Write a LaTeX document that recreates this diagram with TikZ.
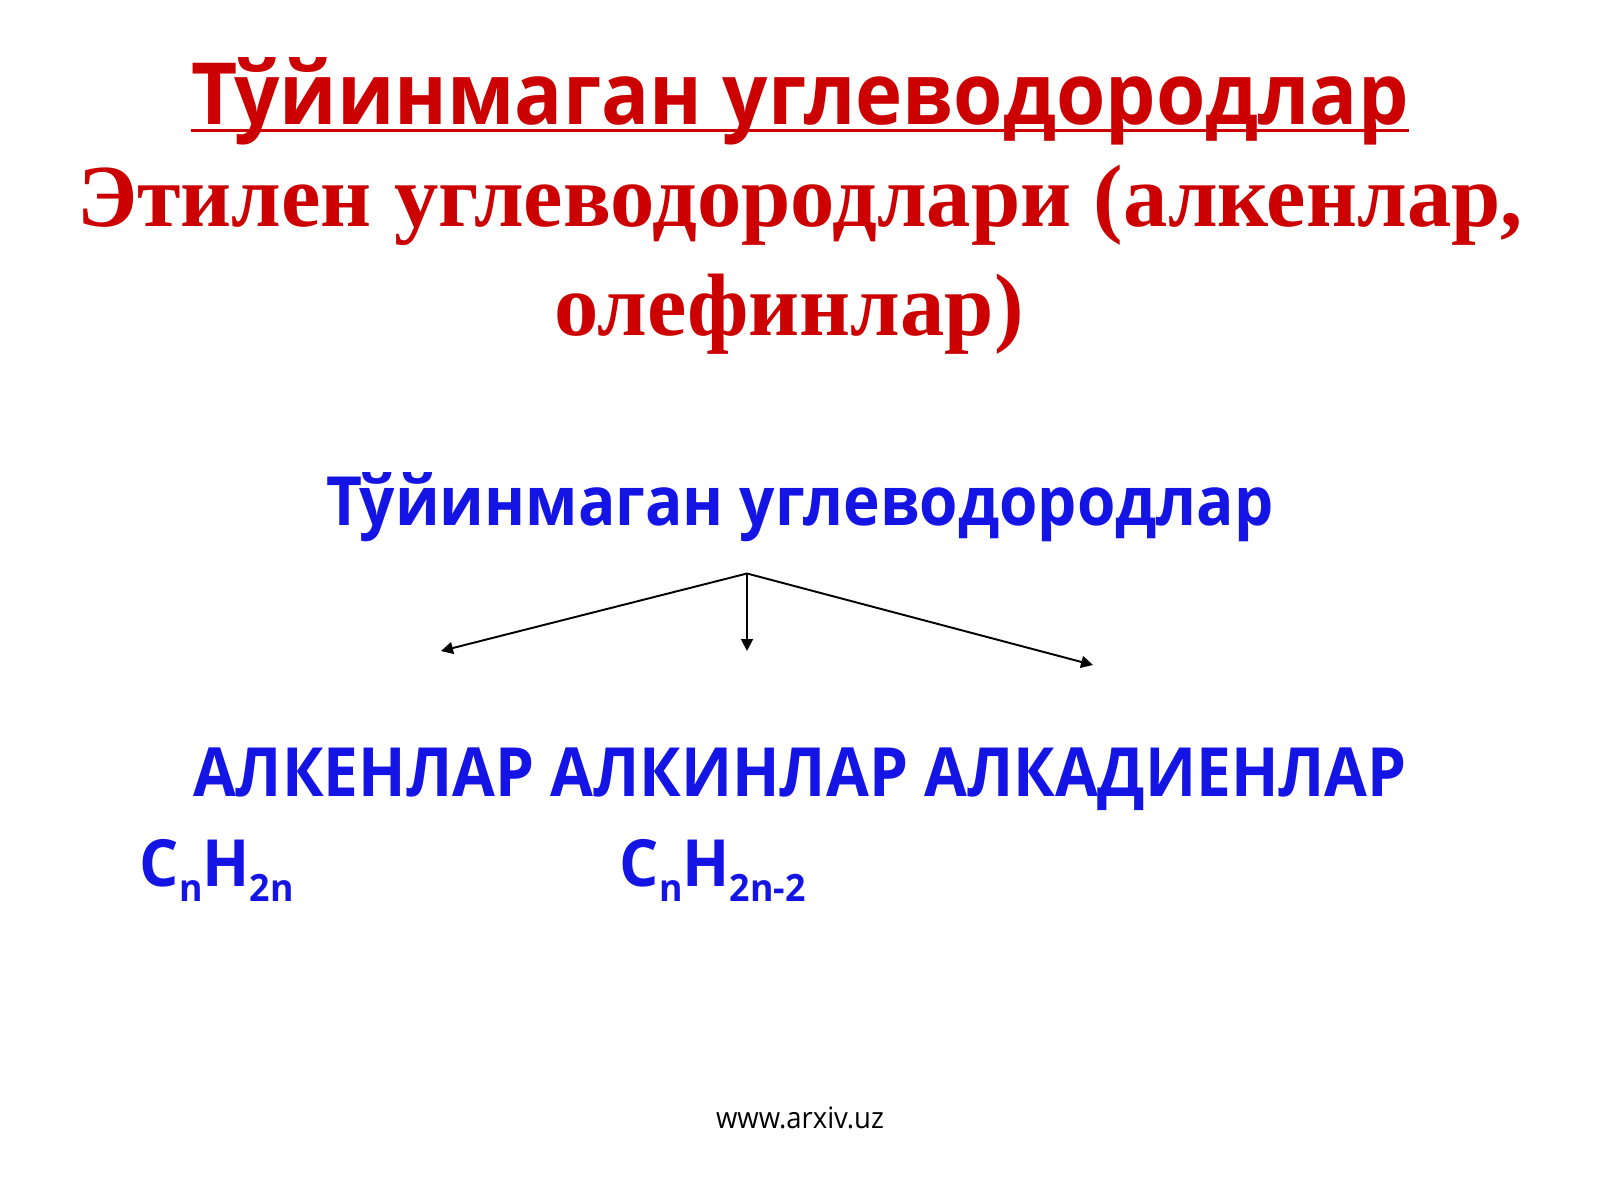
\documentclass[tikz,border=0pt]{standalone}
\usepackage{fontspec}
\setmainfont{Open Sans}
\newfontfamily\timesbold{Liberation Serif}
\newfontfamily\titlesans[FakeStretch=0.93]{Open Sans}
\newfontfamily\bluesans[FakeStretch=0.915]{Open Sans}
\newfontfamily\formsans[FakeStretch=0.95]{Open Sans}
\newfontfamily\footsans[FakeStretch=0.93]{Open Sans}
\usetikzlibrary{arrows.meta, positioning}

\definecolor{titlered}{RGB}{204,0,0}
\definecolor{headblue}{RGB}{20,20,228}

% subscript of the formulas
\newcommand{\formsub}[1]{\raisebox{-4.3pt}{\fontsize{10.7}{12}\selectfont #1}}

\begin{document}
\begin{tikzpicture}[x=0.01cm, y=-0.01cm,
    title/.style={anchor=base, inner sep=0pt, text=titlered, font=\titlesans\bfseries\fontsize{24.4}{29}\selectfont},
    subtitle/.style={anchor=base, inner sep=0pt, text=titlered, font=\timesbold\bfseries\fontsize{25.2}{30}\selectfont},
    bluetext/.style={anchor=base, inner sep=0pt, text=headblue, font=\bluesans\bfseries\fontsize{19.3}{23}\selectfont},
    formula/.style={anchor=base west, inner sep=0pt, text=headblue, font=\formsans\bfseries\fontsize{18.5}{22}\selectfont},
    branch/.style={-{Triangle[length=3.4pt, width=3.4pt]}, line width=0.55pt}
]
\useasboundingbox[fill=white] (0,0) rectangle (1600,1200);

% Title block
\node[title] (maintitle) at (800,124.5) {Тўйинмаган углеводородлар};
\draw[titlered, line width=0.9pt] ([yshift=-1.7pt]maintitle.base west) -- ([yshift=-1.7pt]maintitle.base east);
\node[subtitle] (ethylene) at (800,226.5) {Этилен углеводородлари (алкенлар,};
\node[subtitle] (olefin) at (789,335) {олефинлар)};

% Classification
\node[bluetext] (unsat) at (800,525.5) {Тўйинмаган углеводородлар};
\coordinate (split) at (747,573.5);
\coordinate (toalkene) at (441,651);
\coordinate (toalkyne) at (747,651);
\coordinate (todiene) at (1093,665);
\draw[branch] (split) -- (toalkene);
\draw[branch] (split) -- (toalkyne);
\draw[branch] (split) -- (todiene);

\node[bluetext] (classes) at (800,796) {АЛКЕНЛАР АЛКИНЛАР АЛКАДИЕНЛАР};

% General formulas
\node[formula] (alkeneform) at (139,886) {C\formsub{n}H\formsub{2n}};
\node[formula] (alkyneform) at (619,886) {C\formsub{n}H\formsub{2n-2}};

% Footer
\node[anchor=base, inner sep=0pt, font=\footsans\fontsize{8.4}{10}\selectfont] (source) at (800,1128) {www.arxiv.uz};

\end{tikzpicture}
\end{document}
